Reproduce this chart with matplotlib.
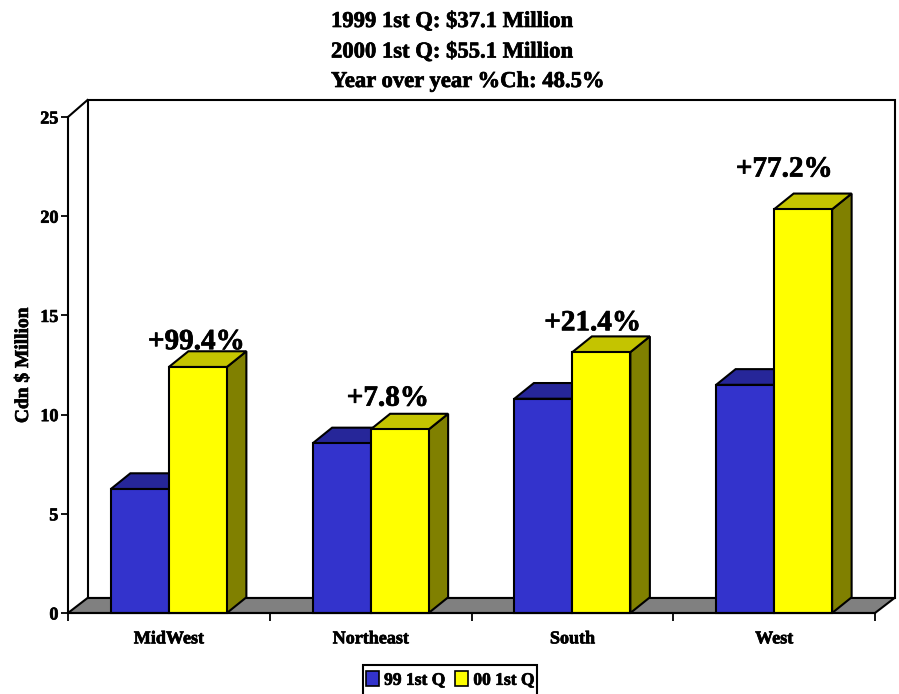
import matplotlib
matplotlib.use('Agg')
import matplotlib.pyplot as plt
import matplotlib.patheffects as pe
from matplotlib.patches import Polygon, Patch, Rectangle
from matplotlib.text import Text

plt.rcParams['font.family'] = ['Liberation Serif', 'DejaVu Serif']
plt.rcParams['font.weight'] = 'bold'
plt.rcParams['axes.labelweight'] = 'bold'

regions = ['MidWest', 'Northeast', 'South', 'West']
q1_99 = [6.25, 8.55, 10.8, 11.5]
q1_00 = [12.4, 9.25, 13.15, 20.35]
pct_labels = ['+99.4%', '+7.8%', '+21.4%', '+77.2%']
y_ticks = [0, 5, 10, 15, 20, 25]
title_lines = ['1999 1st Q: $37.1 Million', '2000 1st Q: $55.1 Million', 'Year over year %Ch: 48.5%']
series_names = ['99 1st Q', '00 1st Q']

W, H = 899, 694
BLUE, BLUE_TOP = '#3333cc', '#262699'
YEL, YEL_TOP, YEL_SIDE = '#ffff00', '#c4c400', '#808000'
GRAY = '#808080'

fig = plt.figure(figsize=(W / 100, H / 100), dpi=100)
ax = fig.add_axes([68 / W, 1 - 613 / H, (875 - 68) / W, (613 - 117) / H])
ax.set_xlim(0, 4)
ax.set_ylim(0, 25)

# depth of the fake 3d box, in data units
px_x = 4 / (875 - 68)
px_y = 25 / (613 - 117)
dx = 19.5 * px_x
dy = 15 * px_y
bar_dy = 15.7 * px_y
top_y = 25 + 17 * px_y
bar_w = 58 * px_x
lw = 1.5


def poly(pts, fc, z):
    ax.add_patch(Polygon(pts, closed=True, fc=fc, ec='black', lw=lw, zorder=z,
                         clip_on=False, joinstyle='miter'))


def bar3d(x0, val, front, top, side, z):
    x1 = x0 + bar_w
    poly([(x1, 0), (x1 + dx, bar_dy), (x1 + dx, val + bar_dy), (x1, val)], side, z)
    poly([(x0, val), (x0 + dx, val + bar_dy), (x1 + dx, val + bar_dy), (x1, val)], top, z)
    poly([(x0, 0), (x1, 0), (x1, val), (x0, val)], front, z + 0.1)


# back wall and floor
poly([(dx, dy), (4 + dx, dy), (4 + dx, top_y), (dx, top_y)], 'white', 1)
poly([(0, 0), (4, 0), (4 + dx, dy), (dx, dy)], GRAY, 2)
ax.plot([0, dx], [25, top_y], color='black', lw=lw, zorder=1.5, clip_on=False)

for i in range(len(regions)):
    c = i + 0.5
    bar3d(c - bar_w, q1_99[i], BLUE, BLUE_TOP, BLUE_TOP, 3 + i)
    bar3d(c, q1_00[i], YEL, YEL_TOP, YEL_SIDE, 3.5 + i)

# percent labels
label_y = [13.3, 10.45, 14.25, 22.0]
label_x = [0.635, 1.585, 2.6, 3.55]
for x, y, s in zip(label_x, label_y, pct_labels):
    ax.text(x, y, s, ha='center', va='baseline', fontsize=21, zorder=20)

for side in ['top', 'right']:
    ax.spines[side].set_visible(False)
for side in ['left', 'bottom']:
    ax.spines[side].set_linewidth(lw)
    ax.spines[side].set_zorder(15)

ax.set_yticks(y_ticks)
ax.set_yticklabels([str(v) for v in y_ticks], fontsize=13)
ax.set_xticks(range(len(regions) + 1))
ax.set_xticklabels([])
ax.set_xticks([i + 0.5 for i in range(len(regions))], minor=True)
ax.set_xticklabels(regions, minor=True, fontsize=13)
ax.tick_params(axis='x', which='minor', length=0, pad=12.5)
ax.tick_params(axis='x', which='major', length=6, width=1.3)
ax.tick_params(axis='y', length=5, width=1.3, pad=2)
ax.set_ylabel('Cdn $ Million', fontsize=14, labelpad=6)

for line, y in zip(title_lines, [27, 57.5, 87]):
    fig.text(331 / W, 1 - y / H, line, fontsize=16.3, va='baseline', ha='left')

# legend box runs off the bottom of the picture
fig.add_artist(Rectangle((363 / W, 1 - 700 / H), 174 / W, 35 / H, transform=fig.transFigure,
                         fc='white', ec='black', lw=1.5))
handles = [Patch(fc=BLUE, ec='black', lw=1.2), Patch(fc=YEL, ec='black', lw=1.2)]
fig.legend(handles, series_names, loc='center', bbox_to_anchor=(450 / W, 1 - 680 / H), ncol=2,
           fontsize=12.6, frameon=False, handlelength=0.75, handleheight=0.95,
           handletextpad=0.3, columnspacing=0.55, borderpad=0, borderaxespad=0)

# the original type is heavier than Liberation Serif Bold
for t in fig.findobj(Text):
    if t.get_text():
        t.set_path_effects([pe.withStroke(linewidth=0.5, foreground='black')])

fig.savefig('out.png', dpi=100)
